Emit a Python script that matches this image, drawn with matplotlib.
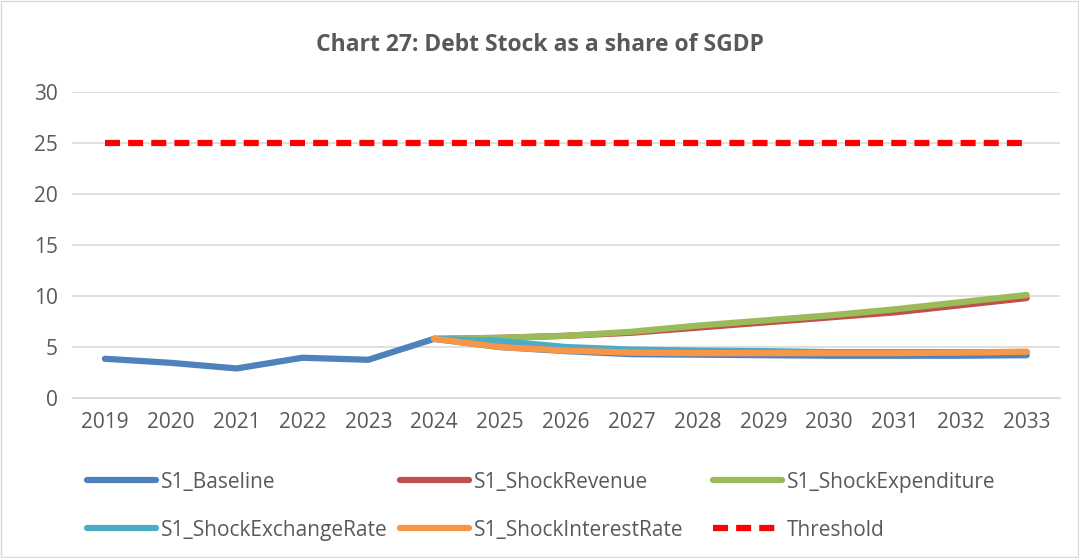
import numpy as np
import matplotlib.pyplot as plt

years = [str(y) for y in range(2019, 2034)]
nan = np.nan

baseline = [3.85, 3.45, 2.9, 3.95, 3.75, 5.8, 5.0, 4.6, 4.3, 4.25, 4.2, 4.15, 4.15, 4.15, 4.2]
shock_revenue = [nan, nan, nan, nan, nan, 5.8, 5.9, 6.1, 6.4, 6.9, 7.4, 7.9, 8.4, 9.1, 9.8]
shock_expenditure = [nan, nan, nan, nan, nan, 5.8, 5.9, 6.1, 6.5, 7.1, 7.6, 8.1, 8.7, 9.4, 10.1]
shock_exchange = [nan, nan, nan, nan, nan, 5.8, 5.6, 5.0, 4.75, 4.65, 4.6, 4.5, 4.5, 4.5, 4.5]
shock_interest = [nan, nan, nan, nan, nan, 5.8, 5.0, 4.65, 4.45, 4.4, 4.4, 4.4, 4.4, 4.45, 4.55]
threshold = [25] * 15

series = [
    ("S1_Baseline", baseline, "#4f81bd"),
    ("S1_ShockRevenue", shock_revenue, "#c0504d"),
    ("S1_ShockExpenditure", shock_expenditure, "#9bbb59"),
    ("S1_ShockExchangeRate", shock_exchange, "#4bacc6"),
    ("S1_ShockInterestRate", shock_interest, "#f79646"),
]

plt.rcParams['font.family'] = ['Open Sans', 'DejaVu Sans']
txt = '#595959'

fig = plt.figure(figsize=(10.79, 5.58), dpi=100)
ax = fig.add_axes([0.0667, 0.2867, 0.9153, 0.5483])
x = np.arange(len(years))

handles = []
for name, vals, col in series:
    h, = ax.plot(x, vals, color=col, lw=4.5, label=name, solid_capstyle='round')
    handles.append(h)
h, = ax.plot(x, threshold, color='#ff0000', lw=4.5, ls=(0, (2.4, 1.3)), label='Threshold')
handles.append(h)

ax.set_xlim(-0.5, len(years) - 0.5)
ax.set_ylim(0, 30)
ax.set_yticks(range(0, 31, 5))
ax.set_xticks(x)
ax.set_xticklabels(years)
ax.grid(axis='y', color='#d9d9d9', lw=1.2)
ax.set_axisbelow(True)
for s in ['top', 'right', 'left']:
    ax.spines[s].set_visible(False)
ax.spines['bottom'].set_color('#d9d9d9')
ax.tick_params(length=0, labelsize=15, colors=txt, pad=10)

fig.text(0.5, 0.919, 'Chart 27: Debt Stock as a share of SGDP', ha='center', va='center',
         fontsize=16.5, fontweight='bold', color=txt)

# one legend per column so columns sit at the same spacing as the original
col_x = [0.0806, 0.3707, 0.6608]
for c in range(3):
    hs = [handles[c], handles[c + 3]]
    leg = fig.legend(hs, [h.get_label() for h in hs], loc='upper left',
                     bbox_to_anchor=(col_x[c], 0.155), ncol=1, frameon=False,
                     fontsize=15, handlelength=3.3, labelspacing=1.3,
                     handletextpad=0.25, borderpad=0, borderaxespad=0)
    for t in leg.get_texts():
        t.set_color(txt)

fig.patches.append(plt.Rectangle((0.001, 0.001), 0.998, 0.998, transform=fig.transFigure,
                                 fill=False, edgecolor='#d9d9d9', lw=1))
fig.savefig('out.png', dpi=100)
